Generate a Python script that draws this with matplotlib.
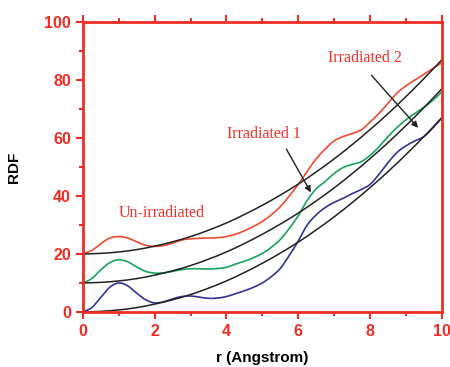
import numpy as np
import matplotlib
matplotlib.use("Agg")
import matplotlib.pyplot as plt
from matplotlib.ticker import MultipleLocator
from matplotlib.path import Path
from matplotlib.patches import PathPatch

# r values (Angstrom), step 0.25
r = [i * 0.25 for i in range(41)]

unirr = [20, 21.2, 23.5, 25.5, 26, 25.5, 24.2, 23, 22.6, 22.9, 23.7, 24.8, 25.2, 25.4, 25.5, 25.6,
         26, 26.8, 28, 29.5, 31.2, 33.5, 36.3, 40, 44, 48.5, 52.8, 56.2, 59, 60.5, 61.5, 62.8,
         65.5, 68.5, 72, 75.5, 78, 80, 82, 84, 86]
irr1 = [10, 11.5, 14.5, 17, 18, 17.3, 15.5, 14, 13.4, 13.5, 14, 14.6, 14.9, 14.9, 14.8, 15,
        15.4, 16.5, 17.5, 18.7, 20.2, 22.3, 25, 28.8, 33.2, 38.5, 42.5, 45, 47.8, 49.8, 50.9, 51.8,
        54, 57, 60.5, 63.6, 66.3, 68.5, 70.6, 73, 76]
irr2 = [0, 1.5, 5, 8.5, 10, 9, 6.5, 4.2, 3.1, 3.5, 4.5, 5.3, 5.5, 5.1, 4.7, 4.8,
        5.3, 6.3, 7.3, 8.5, 10, 12.2, 15, 19.5, 24.5, 30, 33.5, 36, 37.8, 39.2, 40.8, 42.2,
        44, 47.5, 51.5, 55, 57.3, 59, 60.5, 63.5, 67]

# black reference curves, step 0.5
r_fit = [i * 0.5 for i in range(21)]
fit_top = [20, 20.2, 20.7, 21.5, 22.7, 24.2, 26, 28.2, 30.7, 33.6, 36.8, 40.3, 44.1, 48.3,
           52.8, 57.7, 62.9, 68.4, 74.3, 80.5, 87]
fit_mid = [10, 10.2, 10.7, 11.5, 12.7, 14.2, 16, 18.2, 20.7, 23.6, 26.8, 30.3, 34.1, 38.3,
           42.8, 47.7, 52.9, 58.4, 64.3, 70.5, 77]
fit_low = [0, 0.2, 0.7, 1.5, 2.7, 4.2, 6, 8.2, 10.7, 13.6, 16.8, 20.3, 24.1, 28.3,
           32.8, 37.7, 42.9, 48.4, 54.3, 60.5, 67]


def smooth_line(ax, xs, ys, color, lw):
    # draw through the points with catmull-rom style bezier pieces
    p = np.column_stack([xs, ys]).astype(float)
    verts = [p[0]]
    codes = [Path.MOVETO]
    n = len(p)
    for i in range(n - 1):
        p0 = p[max(i - 1, 0)]
        p1 = p[i]
        p2 = p[i + 1]
        p3 = p[min(i + 2, n - 1)]
        c1 = p1 + (p2 - p0) / 6.0
        c2 = p2 - (p3 - p1) / 6.0
        verts += [c1, c2, p2]
        codes += [Path.CURVE4] * 3
    ax.add_patch(PathPatch(Path(verts, codes), fill=False, edgecolor=color, lw=lw))


red = '#ee2e24'
fig = plt.figure(figsize=(4.5, 3.67), dpi=100)
ax = fig.add_axes([0.184, 0.150, 0.798, 0.790])

smooth_line(ax, r, unirr, '#f04b32', 1.2)
smooth_line(ax, r, irr1, '#17a35a', 1.2)
smooth_line(ax, r, irr2, '#303593', 1.2)
for f in (fit_top, fit_mid, fit_low):
    smooth_line(ax, r_fit, f, '#222222', 1.1)

ax.set_xlim(0, 10)
ax.set_ylim(0, 100)
ax.xaxis.set_major_locator(MultipleLocator(2))
ax.xaxis.set_minor_locator(MultipleLocator(1))
ax.yaxis.set_major_locator(MultipleLocator(20))
ax.yaxis.set_minor_locator(MultipleLocator(10))
for s in ax.spines.values():
    s.set_color(red)
    s.set_linewidth(2)
ax.tick_params(which='both', direction='out', colors=red, width=1.5, top=True, right=False)
ax.tick_params(which='major', length=5, labelsize=11.5)
ax.tick_params(which='minor', length=3)
for lab in ax.get_xticklabels() + ax.get_yticklabels():
    lab.set_fontweight('bold')
    lab.set_family('Liberation Sans')

ax.set_xlabel('r (Angstrom)', fontsize=11, fontweight='bold', family='Liberation Sans', labelpad=9)
ax.set_ylabel('RDF', fontsize=11, fontweight='bold', family='Liberation Sans', labelpad=17)

tf = dict(color=red, fontsize=11.5, family='Liberation Serif', ha='center', va='center')
ax.text(2.2, 34, 'Un-irradiated', **tf)
ax.text(5.05, 61.5, 'Irradiated 1', **tf)
ax.text(7.85, 87.6, 'Irradiated 2', **tf)
ap = dict(arrowstyle='-|>', color='#222222', lw=1.0, mutation_scale=9)
ax.annotate('', xy=(6.39, 40.4), xytext=(5.63, 57), arrowprops=ap)
ax.annotate('', xy=(9.39, 62.8), xytext=(7.99, 82.3), arrowprops=ap)

fig.savefig('out.png', dpi=100)
